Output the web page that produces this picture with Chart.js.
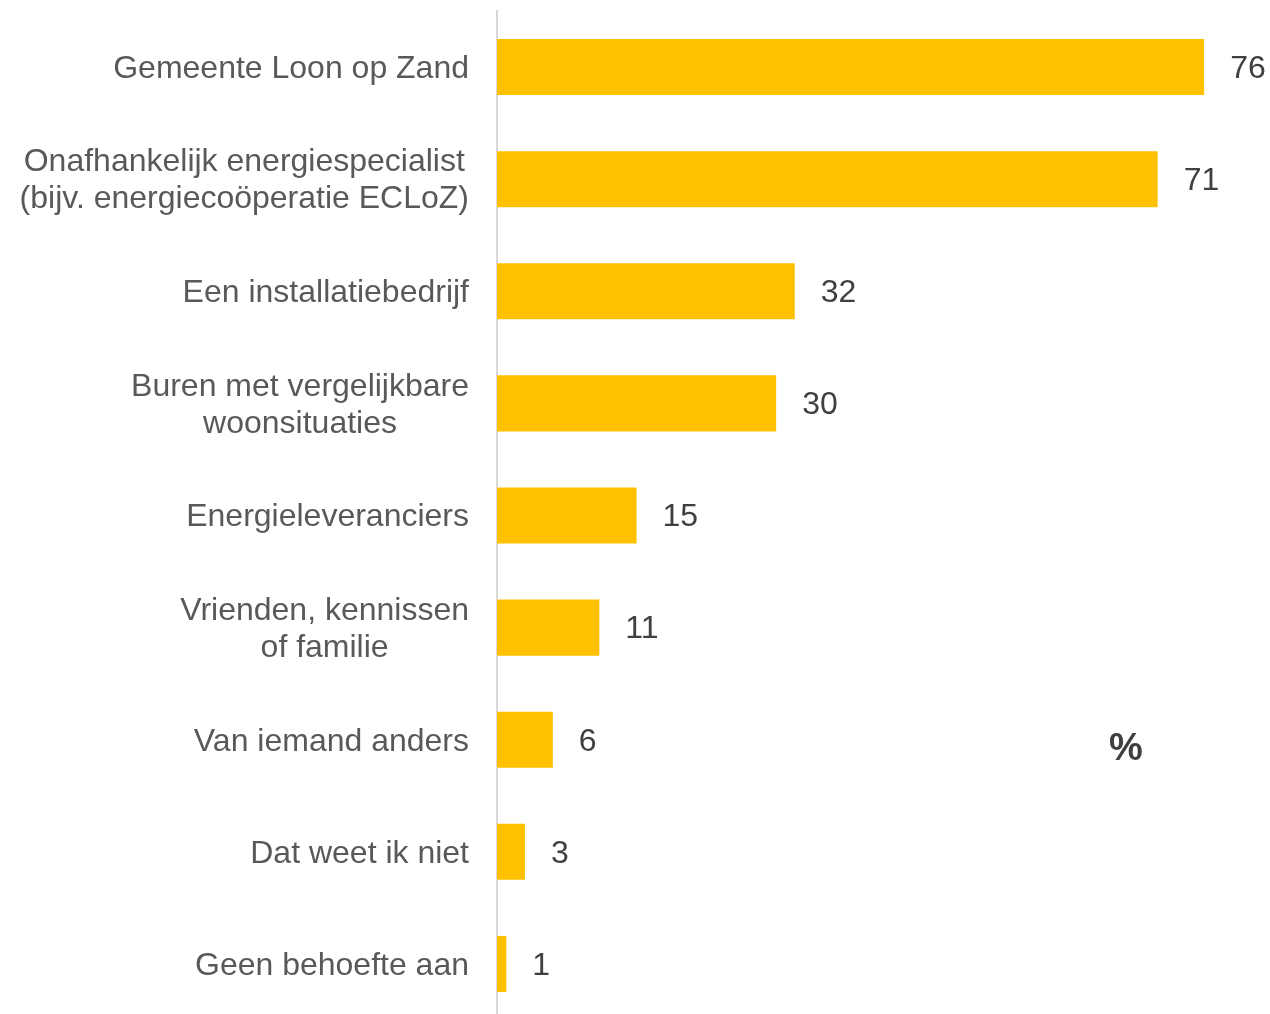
<!DOCTYPE html>
<html>
<head>
<meta charset="utf-8">
<script src="https://cdn.jsdelivr.net/npm/chart.js@4/dist/chart.umd.min.js"></script>
<style>
  html, body { margin: 0; padding: 0; background: #fff; overflow: hidden; }
  canvas { display: block; }
</style>
</head>
<body>
<canvas id="chart" width="1270" height="1020"></canvas>
<script>
const categories = [
    'Gemeente Loon op Zand',
    ['Onafhankelijk energiespecialist', '(bijv. energiecoöperatie ECLoZ)'],
    'Een installatiebedrijf',
    ['Buren met vergelijkbare', 'woonsituaties'],
    'Energieleveranciers',
    ['Vrienden, kennissen', 'of familie'],
    'Van iemand anders',
    'Dat weet ik niet',
    'Geen behoefte aan'
];
const percentages = [76, 71, 32, 30, 15, 11, 6, 3, 1];
const unitLabel = '%';

const FONT = "'Liberation Sans', Arial, sans-serif";

// category labels: block right-aligned to the axis, lines centred inside the block
const categoryLabels = {
    id: 'categoryLabels',
    afterDraw(chart) {
        const ctx = chart.ctx;
        const yScale = chart.scales.y;
        const right = yScale.right - 28;
        const lineH = 37;
        ctx.save();
        ctx.font = '32px ' + FONT;
        ctx.fillStyle = '#595959';
        ctx.textAlign = 'center';
        ctx.textBaseline = 'middle';
        categories.forEach((lab, i) => {
            const lines = Array.isArray(lab) ? lab : [lab];
            const w = Math.max(...lines.map(l => ctx.measureText(l).width));
            const cx = right - w / 2;
            const cy = yScale.getPixelForValue(i) + 2;
            lines.forEach((l, j) => {
                ctx.fillText(l, cx, cy + (j - (lines.length - 1) / 2) * lineH);
            });
        });
        ctx.restore();
    }
};

// value labels next to the bars + the "%" marker
const valueLabels = {
    id: 'valueLabels',
    afterDatasetsDraw(chart) {
        const ctx = chart.ctx;
        const meta = chart.getDatasetMeta(0);
        ctx.save();
        ctx.font = '32px ' + FONT;
        ctx.fillStyle = '#404040';
        ctx.textAlign = 'left';
        ctx.textBaseline = 'middle';
        meta.data.forEach((bar, i) => {
            ctx.fillText(String(percentages[i]), bar.x + 26, bar.y + 2);
        });
        const x = chart.scales.x.getPixelForValue(67.6);
        const y = chart.scales.y.getPixelForValue(6) + 10;
        ctx.font = 'bold 38px ' + FONT;
        ctx.textAlign = 'center';
        ctx.fillText(unitLabel, x, y);
        ctx.restore();
    }
};

new Chart(document.getElementById('chart'), {
    type: 'bar',
    data: {
        labels: categories,
        datasets: [{
            data: percentages,
            backgroundColor: '#FFC000',
            borderWidth: 0,
            categoryPercentage: 1,
            barPercentage: 0.5
        }]
    },
    plugins: [valueLabels, categoryLabels],
    options: {
        indexAxis: 'y',
        responsive: false,
        animation: false,
        layout: {
            padding: { top: 11, right: 10, bottom: 0, left: 0 }
        },
        scales: {
            x: {
                display: false,
                min: 0,
                max: 82
            },
            y: {
                afterFit(scale) {
                    scale.width = 497;
                    scale.paddingTop = 0;
                    scale.paddingBottom = 0;
                },
                grid: {
                    display: false,
                    drawTicks: false
                },
                border: {
                    display: true,
                    color: '#d9d9d9',
                    width: 2
                },
                ticks: {
                    display: false
                }
            }
        },
        plugins: {
            legend: { display: false },
            tooltip: { enabled: false }
        }
    }
});
</script>
</body>
</html>
